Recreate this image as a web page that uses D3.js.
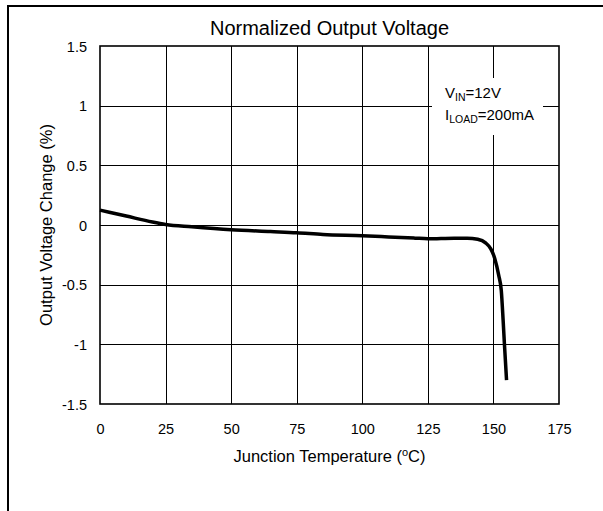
<!DOCTYPE html>
<html>
<head>
<meta charset="utf-8">
<script src="https://cdn.jsdelivr.net/npm/d3@7"></script>
<style>
  html, body { margin: 0; padding: 0; background: #fff; }
  svg { display: block; font-family: "Liberation Sans", Arial, sans-serif; }
</style>
</head>
<body>
<svg id="chart" width="603" height="511"></svg>
<script>
// ---- data ----
const temperature = [0, 10, 20, 25, 35, 50, 65, 75, 85, 100, 110, 120, 125, 135, 140, 144, 147, 149, 150.5, 152, 153, 153.7, 154.2, 155];
const voltageChange = [0.125, 0.075, 0.025, 0.005, -0.015, -0.04, -0.055, -0.065, -0.08, -0.09, -0.1, -0.11, -0.115, -0.11, -0.11, -0.12, -0.15, -0.2, -0.28, -0.42, -0.55, -0.8, -1.0, -1.3];
const xTicks = [0, 25, 50, 75, 100, 125, 150, 175];
const yTicks = [-1.5, -1, -0.5, 0, 0.5, 1, 1.5];
const yTickLabels = ["-1.5", "-1", "-0.5", "0", "0.5", "1", "1.5"];
const titleText = "Normalized Output Voltage";
const xTitle = "Junction Temperature (";
const yTitle = "Output Voltage Change (%)";

const svg = d3.select("#chart");
const mLeft = 100, mRight = 559, mTop = 46, mBottom = 404;

const x = d3.scaleLinear().domain([0, 175]).range([mLeft, mRight]);
const y = d3.scaleLinear().domain([-1.5, 1.5]).range([mBottom, mTop]);
const px = v => Math.round(v) + 0.5;

// outer frame (right and bottom edges fall outside the picture)
svg.append("rect").attr("x", 8).attr("y", 6).attr("width", 610).attr("height", 520)
  .attr("fill", "none").attr("stroke", "#000").attr("stroke-width", 2);

// title
svg.append("text").attr("x", (mLeft + mRight) / 2).attr("y", 35)
  .attr("text-anchor", "middle").attr("font-size", 20).text(titleText);

// grid
const grid = svg.append("g");
grid.selectAll(".vx").data(xTicks.slice(1, -1)).enter().append("line")
  .attr("x1", d => px(x(d))).attr("x2", d => px(x(d)))
  .attr("y1", mTop).attr("y2", mBottom).attr("stroke", "#000").attr("stroke-width", 1);
grid.selectAll(".hy").data(yTicks.slice(1, -1)).enter().append("line")
  .attr("y1", d => px(y(d))).attr("y2", d => px(y(d)))
  .attr("x1", mLeft).attr("x2", mRight).attr("stroke", "#000").attr("stroke-width", 1);

// legend background box (hides grid)
svg.append("rect").attr("x", 432).attr("y", 78).attr("width", 111).attr("height", 57).attr("fill", "#fff");

// plot frame
svg.append("rect").attr("x", mLeft).attr("y", mTop).attr("width", mRight - mLeft).attr("height", mBottom - mTop)
  .attr("fill", "none").attr("stroke", "#000").attr("stroke-width", 1.6);

// axes (labels only)
const xAxis = svg.append("g").attr("transform", `translate(0,${mBottom})`)
  .call(d3.axisBottom(x).tickValues(xTicks).tickSize(0).tickPadding(0).tickFormat(d3.format("d")));
xAxis.select(".domain").remove();
xAxis.selectAll("text").attr("font-size", 14.5).attr("font-family", "Liberation Sans, Arial, sans-serif")
  .attr("fill", "#000").attr("dy", null).attr("y", 30);

const yAxis = svg.append("g").attr("transform", `translate(${mLeft},0)`)
  .call(d3.axisLeft(y).tickValues(yTicks).tickSize(0).tickPadding(13).tickFormat((d, i) => yTickLabels[i]));
yAxis.select(".domain").remove();
yAxis.selectAll("text").attr("font-size", 14.5).attr("font-family", "Liberation Sans, Arial, sans-serif")
  .attr("fill", "#000").attr("dy", "0.36em");

// axis titles
const xt = svg.append("text").attr("x", (mLeft + mRight) / 2).attr("y", 462)
  .attr("text-anchor", "middle").attr("font-size", 16.5);
xt.append("tspan").text(xTitle);
xt.append("tspan").attr("font-size", 11).attr("dy", -6).text("o");
xt.append("tspan").attr("dy", 6).text("C)");

svg.append("text").attr("transform", `translate(52,${(mTop + mBottom) / 2}) rotate(-90)`)
  .attr("text-anchor", "middle").attr("font-size", 16.5).text(yTitle);

// legend text
const l1 = svg.append("text").attr("x", 445).attr("y", 98).attr("font-size", 15);
l1.append("tspan").text("V");
l1.append("tspan").attr("font-size", 10.5).attr("dy", 3).text("IN");
l1.append("tspan").attr("dy", -3).text("=12V");
const l2 = svg.append("text").attr("x", 445).attr("y", 120).attr("font-size", 15);
l2.append("tspan").text("I");
l2.append("tspan").attr("font-size", 10.5).attr("dy", 3).text("LOAD");
l2.append("tspan").attr("dy", -3).text("=200mA");

// curve
const line = d3.line().x((d, i) => x(temperature[i])).y(d => y(d)).curve(d3.curveMonotoneX);
svg.append("path").datum(voltageChange).attr("d", line)
  .attr("fill", "none").attr("stroke", "#000").attr("stroke-width", 3.5).attr("stroke-linejoin", "round");
</script>
</body>
</html>
